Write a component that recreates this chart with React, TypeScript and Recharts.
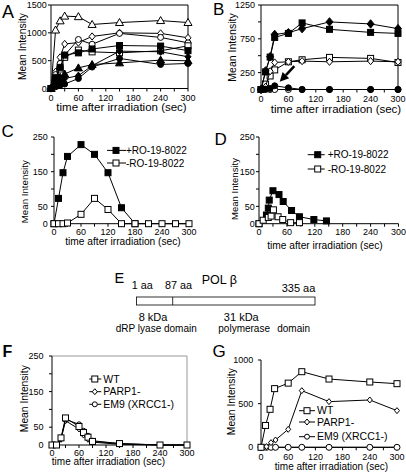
import React from "react";
import { ScatterChart, Scatter, XAxis, YAxis, ReferenceLine, Legend } from "recharts";

const FONT = '"Liberation Sans", Arial, Helvetica, sans-serif';

// panel A
const tA = [0, 10, 20, 30, 60, 90, 150, 240, 300];
const aOpenTri = [0, 1050, 1215, 1300, 1290, 1150, 1185, 1220, 1185];
const aOpenDia = [0, 300, 560, 800, 825, 935, 1000, 990, 910];
const aOpenCirc = [0, 250, 450, 600, 880, 795, 990, 918, 820];
const aFillSq = [0, 180, 380, 600, 640, 710, 772, 762, 680];
const aOpenSq = [0, 200, 350, 560, 690, 658, 641, 677, 767];
const aFillTri = [0, 100, 200, 260, 370, 430, 460, 510, 497];
const aFillDia = [0, 60, 110, 180, 230, 410, 670, 660, 570];
const aFillCirc = [0, 30, 60, 80, 180, 385, 540, 432, 450];

// panel B
const tB = [0, 10, 20, 30, 60, 90, 150, 240, 300];
const bFillDia = [0, 275, 485, 815, 840, 900, 1000, 970, 900];
const bFillSq = [0, 260, 480, 770, 830, 985, 890, 845, 830];
const bOpenSq = [0, 80, 200, 290, 410, 440, 475, 460, 400];
const bOpenDia = [0, 40, 270, 400, 410, 420, 410, 420, 410];
const bFillCirc = [0, 5, 15, 55, 25, 0, 0, 0, 0];
const bOpenCirc = [0, 0, 0, 0, 0, 0, 0, 0, 0];
const arrowFrom = { t: 73, v: 345 };
const arrowTo = { t: 41, v: 115 };

// panel C
const tCPlus = [0, 10, 20, 30, 60, 90, 120, 150, 180];
const cPlus = [0, 73, 147, 194, 228, 200, 147, 46, 0];
const tCMinus = [0, 10, 20, 30, 60, 90, 120, 150, 180, 210, 240, 270, 300];
const cMinus = [0, 0, 0, 2, 27, 73, 41, 0, 0, 0, 0, 0, 0];

// panel D
const tDPlus = [0, 16, 20, 22, 30, 43, 52, 70, 87, 118, 145];
const dPlus = [0, 25, 45, 68, 95, 84, 64, 38, 20, 12, 8];
const tDMinus = [0, 9, 20, 26, 31, 41, 51, 68, 87];
const dMinus = [0, 10, 18, 22, 40, 20, 12, 3, 3];

// panel F
const tF = [0, 10, 20, 30, 60, 70, 80, 90, 150, 240, 300];
const fWT = [0, 0, 20, 76, 52, 35, 22, 10, 4, 0, 0];
const fPARP = [0, 0, 16, 68, 45, 28, 16, 8, 2, 0, 0];
const fEM9 = [0, 0, 18, 72, 58, 40, 26, 12, 4, 0, 0];

// panel G
const tG = [0, 10, 20, 30, 60, 90, 150, 240, 300];
const tGb = [0, 12, 22, 32, 60, 90, 150, 240, 300];
const gWT = [0, 250, 435, 672, 735, 866, 782, 748, 729];
const gPARP = [0, 8, 53, 84, 206, 649, 523, 542, 420];
const gEM9 = [0, 0, 0, 0, 0, 0, 0, 0, 0];

const xTicks = [0, 30, 60, 90, 120, 150, 180, 210, 240, 270, 300];
const RO_PLUS = "+RO-19-8022";
const RO_MINUS = "-RO-19-8022";
const X_TITLE = "time after irradiation (sec)";
const Y_TITLE = "Mean Intensity";

const pts = (ts: number[], vs: number[]) => ts.map((t, i) => ({ t, v: vs[i] }));

function Mk({ cx, cy, kind, s }: { cx: number; cy: number; kind: string; s: number }) {
  if (cx == null || cy == null) return null;
  const h = s / 2;
  const st = { fill: kind[0] === "f" ? "#000" : "#fff", stroke: "#000", strokeWidth: 1 };
  const k = kind.slice(1);
  if (k === "sq") return <rect x={cx - h} y={cy - h} width={s} height={s} {...st} />;
  if (k === "ci") return <circle cx={cx} cy={cy} r={h} {...st} />;
  if (k === "di")
    return <polygon points={`${cx},${cy - h * 1.2} ${cx + h},${cy} ${cx},${cy + h * 1.2} ${cx - h},${cy}`} {...st} />;
  return (
    <polygon points={`${cx},${cy - h * 1.15} ${cx + h * 1.15},${cy + h * 0.85} ${cx - h * 1.15},${cy + h * 0.85}`} {...st} />
  );
}

function series(key: string, ts: number[], vs: number[], kind: string, s = 6) {
  return (
    <Scatter
      key={key}
      data={pts(ts, vs)}
      line={{ stroke: "#000", strokeWidth: 1 }}
      lineType="joint"
      shape={(p: any) => <Mk cx={p.cx} cy={p.cy} kind={kind} s={s} />}
      isAnimationActive={false}
    />
  );
}

type Row = { y: number; x1: number; x2: number; mx: number; tx: number; kind: string; s: number; text: string };

function arrowShape(p: any) {
  const { x1, y1, x2, y2 } = p;
  const dx = x2 - x1, dy = y2 - y1;
  const len = Math.hypot(dx, dy) || 1;
  const ux = dx / len, uy = dy / len;
  const hl = 9, hw = 4.5;
  const bx = x2 - ux * hl, by = y2 - uy * hl;
  return (
    <g>
      <line x1={x1} y1={y1} x2={bx} y2={by} stroke="#000" strokeWidth={2.6} />
      <polygon points={`${x2},${y2} ${bx - uy * hw},${by + ux * hw} ${bx + uy * hw},${by - ux * hw}`} fill="#000" />
    </g>
  );
}

function Panel(props: any) {
  const { L, T, W, H, yMax, yTicks, yShown, xm, yGap, frame, legend, lfs, children } = props;
  const mt = 6, mr = 10, yw = 50, xh = 35;
  const cw = W + yw + mr, ch = H + mt + xh;
  const left = L - yw, top = T - mt;
  return (
    <div style={{ position: "absolute", left, top, width: cw, height: ch }}>
      <ScatterChart width={cw} height={ch} margin={{ top: mt, right: mr, bottom: 0, left: 0 }}>
        <XAxis
          type="number"
          dataKey="t"
          domain={[0, 300]}
          ticks={xTicks}
          interval={0}
          tickFormatter={(v: number) => (v % 60 === 0 ? String(v) : "")}
          tick={{ fontSize: 9, fill: "#000" }}
          tickSize={3}
          tickMargin={xm}
          stroke="#000"
          height={xh}
        />
        <YAxis
          type="number"
          dataKey="v"
          domain={[0, yMax]}
          ticks={yTicks}
          interval={0}
          tickFormatter={(v: number) => (yShown.includes(v) ? String(v) : "")}
          tick={{ fontSize: 9, fill: "#000" }}
          tickSize={3}
          tickMargin={yGap - 3}
          width={yw}
          stroke="#000"
        />
        {frame && <ReferenceLine y={yMax} stroke={frame} />}
        {frame && <ReferenceLine x={300} stroke={frame} />}
        {children}
        {legend && (
          <Legend
            layout="vertical"
            align="center"
            verticalAlign="middle"
            wrapperStyle={{ left: 0, top: 0, width: cw, height: ch, pointerEvents: "none" }}
            content={() => (
              <svg width={cw} height={ch} style={{ position: "absolute", left: 0, top: 0 }}>
                {(legend as Row[]).map((r, i) => (
                  <g key={i}>
                    <line x1={r.x1 - left} x2={r.x2 - left} y1={r.y - top} y2={r.y - top} stroke="#000" />
                    <Mk cx={r.mx - left} cy={r.y - top} kind={r.kind} s={r.s} />
                    <text x={r.tx - left} y={r.y - top} dy="0.35em" fontSize={lfs} fill="#000">
                      {r.text}
                    </text>
                  </g>
                ))}
              </svg>
            )}
          />
        )}
      </ScatterChart>
    </div>
  );
}

const legC: Row[] = [
  { y: 150.7, x1: 107, x2: 126, mx: 116, tx: 126, kind: "fsq", s: 6, text: RO_PLUS },
  { y: 163.3, x1: 107, x2: 126, mx: 116, tx: 126, kind: "osq", s: 6, text: RO_MINUS },
];
const legD: Row[] = [
  { y: 155, x1: 308, x2: 325, mx: 318, tx: 328, kind: "fsq", s: 6, text: RO_PLUS },
  { y: 169.3, x1: 308, x2: 325, mx: 318, tx: 328, kind: "osq", s: 6, text: RO_MINUS },
];
const legF: Row[] = [
  { y: 379, x1: 89, x2: 101, mx: 94.5, tx: 103, kind: "osq", s: 6, text: "WT" },
  { y: 391.7, x1: 89, x2: 101, mx: 94.5, tx: 103, kind: "odi", s: 5, text: "PARP1-" },
  { y: 404.3, x1: 89, x2: 101, mx: 94.5, tx: 103, kind: "oci", s: 5, text: "EM9 (XRCC1-)" },
];
const legG: Row[] = [
  { y: 410.7, x1: 299, x2: 315, mx: 307, tx: 317, kind: "osq", s: 6, text: "WT" },
  { y: 422, x1: 299, x2: 315, mx: 307, tx: 317, kind: "odi", s: 5, text: "PARP1-" },
  { y: 436.7, x1: 299, x2: 315, mx: 307, tx: 317, kind: "oci", s: 5, text: "EM9 (XRCC1-)" },
];

// axis titles: [centre x, baseline y, font size]
const xTitles = [
  [121.5, 111.1, 11.5],
  [336, 112.6, 11.5],
  [123, 245.1, 10.2],
  [325, 249.1, 10.2],
  [108.5, 465, 10],
  [331.5, 470.1, 10],
];
// [centre x, centre y, font size]
const yTitles = [
  [22, 46.5, 10.3],
  [232, 47.5, 10.5],
  [24.5, 191.7, 9.7],
  [234.7, 189, 9.5],
  [24, 398.7, 10.3],
  [231, 401.7, 10.3],
];

export default function App() {
  return (
    <div
      style={{
        position: "absolute",
        left: 0,
        top: 0,
        width: 406,
        height: 472,
        background: "#fff",
        overflow: "hidden",
        fontFamily: FONT,
      }}
    >
      <Panel L={51} T={5} W={137} H={83.5} yMax={1500} yTicks={[0, 500, 1000, 1500]} yShown={[0, 500, 1000, 1500]}
        xm={3.6} yGap={4.3} frame="#000">
        {series("a1", tA, aOpenTri, "otr", 7)}
        {series("a2", tA, aOpenDia, "odi", 6)}
        {series("a3", tA, aOpenCirc, "oci", 6)}
        {series("a4", tA, aOpenSq, "osq", 6)}
        {series("a5", tA, aFillSq, "fsq", 6)}
        {series("a6", tA, aFillTri, "ftr", 7)}
        {series("a7", tA, aFillDia, "fdi", 6)}
        {series("a8", tA, aFillCirc, "fci", 6)}
      </Panel>

      <Panel L={261} T={5} W={137} H={84.5} yMax={1250} yTicks={[0, 250, 500, 750, 1000, 1250]}
        yShown={[0, 250, 750, 1250]} xm={3.6} yGap={6} frame="#000">
        {series("b1", tB, bOpenSq, "osq", 6)}
        {series("b2", tB, bOpenDia, "odi", 6)}
        {series("b3", tB, bFillSq, "fsq", 6)}
        {series("b4", tB, bFillDia, "fdi", 7)}
        {series("b5", tB, bOpenCirc, "oci", 6)}
        {series("b6", tB, bFillCirc, "fci", 6)}
        <ReferenceLine
          segment={[
            { x: arrowFrom.t, y: arrowFrom.v },
            { x: arrowTo.t, y: arrowTo.v },
          ]}
          shape={arrowShape}
        />
      </Panel>

      <Panel L={54} T={137.3} W={135} H={86.7} yMax={250} yTicks={[0, 50, 100, 150, 200, 250]}
        yShown={[0, 50, 150, 250]} xm={1.5} yGap={6.3} legend={legC} lfs={10}>
        {series("c1", tCPlus, cPlus, "fsq", 6)}
        {series("c2", tCMinus, cMinus, "osq", 6)}
      </Panel>

      <Panel L={259.3} T={137.3} W={139.5} H={86.7} yMax={250} yTicks={[0, 50, 100, 150, 200, 250]}
        yShown={[0, 50, 150, 250]} xm={1.5} yGap={4.3} legend={legD} lfs={10}>
        {series("d1", tDPlus, dPlus, "fsq", 6)}
        {series("d2", tDMinus, dMinus, "osq", 6)}
      </Panel>

      <Panel L={51.7} T={356} W={135} H={89} yMax={250} yTicks={[0, 50, 100, 150, 200, 250]}
        yShown={[0, 50, 150, 250]} xm={1.2} yGap={8.4} frame="#999" legend={legF} lfs={10.5}>
        {series("f1", tF, fPARP, "odi", 5)}
        {series("f2", tF, fEM9, "oci", 5)}
        {series("f3", tF, fWT, "osq", 6)}
      </Panel>

      <Panel L={261} T={360} W={136} H={87.3} yMax={1000} yTicks={[0, 500, 1000]} yShown={[0, 500, 1000]}
        xm={3.8} yGap={7.7} legend={legG} lfs={10.5}>
        {series("g1", tGb, gEM9, "oci", 6)}
        {series("g2", tGb, gPARP, "odi", 5)}
        {series("g3", tG, gWT, "osq", 6)}
      </Panel>

      <svg
        width={406}
        height={472}
        style={{ position: "absolute", left: 0, top: 0, pointerEvents: "none" }}
        fontFamily={FONT}
      >
        {xTitles.map(([x, y, fs], i) => (
          <text key={"xt" + i} x={x} y={y} fontSize={fs} textAnchor="middle">
            {X_TITLE}
          </text>
        ))}
        {yTitles.map(([x, y, fs], i) => (
          <text key={"yt" + i} x={x} y={y} dy="0.35em" fontSize={fs} textAnchor="middle"
            transform={`rotate(-90 ${x} ${y})`}>
            {Y_TITLE}
          </text>
        ))}

        <text x={2} y={17.5} fontSize={18}>A</text>
        <text x={213} y={15} fontSize={17}>B</text>
        <text x={1.5} y={136.5} fontSize={17}>C</text>
        <text x={214.5} y={145} fontSize={17}>D</text>
        <text x={114.5} y={283} fontSize={14.5}>E</text>
        <text x={2.5} y={356.5} fontSize={16} fontWeight="bold">F</text>
        <text x={212.5} y={356.5} fontSize={17}>G</text>

        <text x={131.7} y={289} fontSize={10.8}>1 aa</text>
        <text x={165} y={289} fontSize={10.8}>87 aa</text>
        <text x={201.7} y={284} fontSize={12.5}>POL β</text>
        <text x={281.7} y={291.5} fontSize={11}>335 aa</text>
        <rect x={136.5} y={297} width={178.5} height={8} fill="#fff" stroke="#000" strokeWidth={0.8} />
        <line x1={172.7} x2={172.7} y1={297} y2={305} stroke="#000" strokeWidth={0.8} />
        <text x={153} y={320.5} fontSize={11} textAnchor="middle">8 kDa</text>
        <text x={241.3} y={320.5} fontSize={11} textAnchor="middle">31 kDa</text>
        <text x={156.3} y={331.5} fontSize={10} textAnchor="middle">dRP lyase domain</text>
        <text x={218.3} y={331.5} fontSize={10}>polymerase</text>
        <text x={310} y={331.5} fontSize={10} textAnchor="end">domain</text>
      </svg>
    </div>
  );
}
